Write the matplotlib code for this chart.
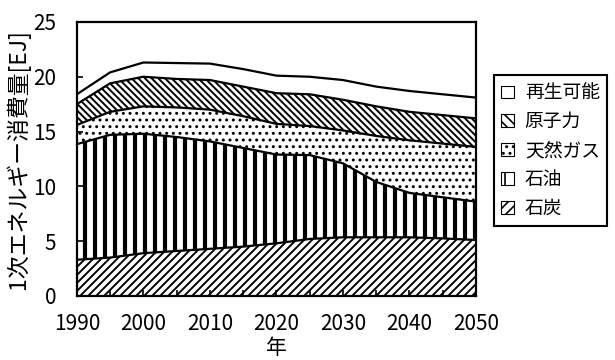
import numpy as np
import matplotlib.pyplot as plt
import matplotlib.patches as mpatches

plt.rcParams['font.family'] = ['Noto Sans CJK JP', 'DejaVu Sans']

years = [1990, 1995, 2000, 2005, 2010, 2015, 2020, 2025, 2030, 2035, 2040, 2045, 2050]

# primary energy by source [EJ], stacked bottom to top
coal = [3.3, 3.5, 3.9, 4.1, 4.3, 4.5, 4.8, 5.2, 5.35, 5.35, 5.35, 5.25, 5.1]
oil = [10.55, 11.2, 10.9, 10.4, 9.8, 9.0, 8.1, 7.65, 6.75, 5.05, 4.05, 3.75, 3.5]
gas = [1.75, 2.1, 2.5, 2.7, 2.9, 2.9, 2.8, 2.65, 3.0, 4.2, 4.8, 4.9, 5.0]
nuclear = [1.9, 2.6, 2.7, 2.6, 2.7, 2.7, 2.8, 2.9, 2.8, 2.7, 2.6, 2.6, 2.6]
renew = [0.9, 1.0, 1.3, 1.45, 1.5, 1.6, 1.6, 1.6, 1.8, 1.8, 1.9, 1.9, 1.9]

names = ['石炭', '石油', '天然ガス', '原子力', '再生可能']

# rendered at 120 dpi so hatch spacing comes out denser; k converts sizes back
DPI = 120
k = 100 / DPI

hatches = ['/////', '||', '...', '\\' * 6, '']
hatch_lw = [1.4 * k, 3.0 * k, 1.2 * k, 1.4 * k, 1.0]
legend_hatches = ['////', '||', '...', '\\' * 4, '']

fig = plt.figure(figsize=(615 / DPI, 360 / DPI), dpi=DPI)
ax = fig.add_axes([0.125, 0.178, 0.649, 0.761])

x = np.array(years)
series = [coal, oil, gas, nuclear, renew]
bottom = np.zeros(len(years))
handles = []
for vals, name, h, lh, hl in zip(series, names, hatches, legend_hatches, hatch_lw):
    top = bottom + np.array(vals)
    plt.rcParams['hatch.linewidth'] = hl
    poly = ax.fill_between(x, bottom, top, facecolor='white', edgecolor='black',
                           hatch=h, linewidth=0)
    if hasattr(poly, 'set_hatch_linewidth'):
        poly.set_hatch_linewidth(hl)
    ax.plot(x, top, color='black', lw=1.6 * k, solid_joinstyle='round')
    p = mpatches.Patch(facecolor='white', edgecolor='black', hatch=lh, linewidth=0.8 * k)
    if hasattr(p, 'set_hatch_linewidth'):
        p.set_hatch_linewidth(min(hl, 1.6 * k))
    handles.append(p)
    bottom = top

ax.set_xlim(1990, 2050)
ax.set_ylim(0, 25)
ax.set_xticks(range(1990, 2051, 10))
ax.set_xticks(range(1990, 2051, 5), minor=True)
ax.set_yticks(range(0, 26, 5))
ax.tick_params(axis='both', which='both', direction='in', length=4 * k, width=1.2 * k,
               labelsize=15 * k, top=False, right=False)
ax.tick_params(axis='x', which='both', pad=12 * k)
ax.tick_params(axis='y', pad=15 * k)
for s in ax.spines.values():
    s.set_linewidth(1.6 * k)
    s.set_zorder(5)

ax.set_xlabel('年', fontsize=15 * k, va='baseline')
ax.xaxis.set_label_coords(0.5, -0.212)
ax.set_ylabel('1次エネルギー消費量[EJ]', fontsize=16.5 * k, labelpad=2 * k)

leg = ax.legend(handles[::-1], names[::-1], loc='upper left',
                bbox_to_anchor=(0.803, 0.792), bbox_transform=fig.transFigure,
                borderaxespad=0, fontsize=13.5 * k, handlelength=0.65, handleheight=0.65,
                handletextpad=0.6, labelspacing=0.42, borderpad=0.4,
                fancybox=False, edgecolor='black', framealpha=1)
leg.get_frame().set_linewidth(1.5 * k)

fig.savefig('out.png', dpi=DPI)
